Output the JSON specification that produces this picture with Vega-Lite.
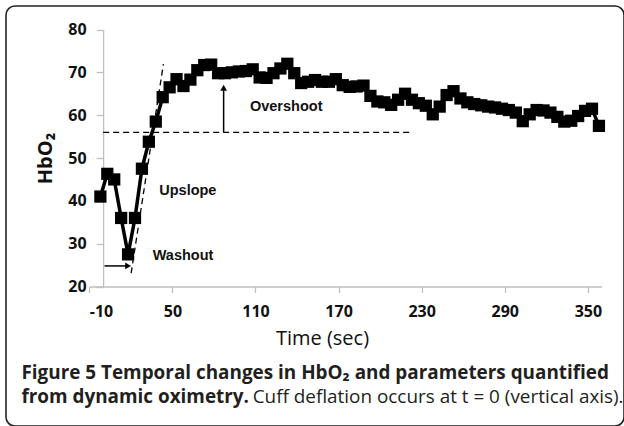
{
  "$schema": "https://vega.github.io/schema/vega-lite/v6.json",
  "width": 618,
  "height": 420,
  "autosize": {"type": "none"},
  "padding": {"left": 6, "top": 6, "right": 0, "bottom": 0},
  "background": "white",
  "config": {"view": {"stroke": "#222222", "strokeWidth": 1.6, "cornerRadius": 9}},
  "data": {"values": [
    {"t": -2, "v": 41.0}, {"t": 3, "v": 46.3}, {"t": 8, "v": 45.0}, {"t": 13, "v": 36.0},
    {"t": 18, "v": 27.5}, {"t": 23, "v": 36.0}, {"t": 28, "v": 47.5}, {"t": 33, "v": 53.8},
    {"t": 38, "v": 58.5}, {"t": 43, "v": 64.2}, {"t": 48, "v": 66.5}, {"t": 53, "v": 68.4},
    {"t": 58, "v": 66.8}, {"t": 63, "v": 68.3}, {"t": 68, "v": 70.5}, {"t": 73, "v": 71.7},
    {"t": 78, "v": 71.8}, {"t": 83, "v": 69.8}, {"t": 88, "v": 69.8}, {"t": 93, "v": 70.0},
    {"t": 98, "v": 70.2}, {"t": 103, "v": 70.3}, {"t": 108, "v": 70.7}, {"t": 113, "v": 68.8},
    {"t": 118, "v": 68.7}, {"t": 123, "v": 69.8}, {"t": 128, "v": 70.9}, {"t": 133, "v": 72.0},
    {"t": 138, "v": 69.8}, {"t": 143, "v": 67.5}, {"t": 148, "v": 67.8}, {"t": 153, "v": 68.2},
    {"t": 158, "v": 67.8}, {"t": 163, "v": 67.8}, {"t": 168, "v": 68.4}, {"t": 173, "v": 67.0},
    {"t": 178, "v": 66.6}, {"t": 183, "v": 66.7}, {"t": 188, "v": 66.9}, {"t": 193, "v": 64.5},
    {"t": 198, "v": 63.2}, {"t": 203, "v": 63.0}, {"t": 208, "v": 62.4}, {"t": 213, "v": 63.6},
    {"t": 218, "v": 65.0}, {"t": 223, "v": 63.6}, {"t": 228, "v": 62.8}, {"t": 233, "v": 62.2},
    {"t": 238, "v": 60.2}, {"t": 243, "v": 62.0}, {"t": 248, "v": 64.7}, {"t": 253, "v": 65.6},
    {"t": 258, "v": 63.9}, {"t": 263, "v": 63.0}, {"t": 268, "v": 62.6}, {"t": 273, "v": 62.3},
    {"t": 278, "v": 62.0}, {"t": 283, "v": 61.8}, {"t": 288, "v": 61.5}, {"t": 293, "v": 61.2},
    {"t": 298, "v": 60.6}, {"t": 303, "v": 58.6}, {"t": 308, "v": 60.2}, {"t": 313, "v": 61.2},
    {"t": 318, "v": 61.1}, {"t": 323, "v": 60.6}, {"t": 328, "v": 59.6}, {"t": 333, "v": 58.5},
    {"t": 338, "v": 58.7}, {"t": 343, "v": 59.8}, {"t": 348, "v": 61.0}, {"t": 353, "v": 61.5},
    {"t": 358, "v": 57.5}
  ]},
  "layer": [
    {
      "mark": {"type": "line", "color": "#000000", "strokeWidth": 3.5},
      "encoding": {
        "x": {
          "field": "t", "type": "quantitative",
          "scale": {"domain": [-10, 360], "range": [83.3, 595.7], "nice": false, "zero": false},
          "axis": {
            "values": [-10, 50, 110, 170, 230, 290, 350],
            "labelExpr": "'' + datum.value",
            "offset": -139.5, "grid": false,
            "domainColor": "#bfbfbf", "domainWidth": 1.3,
            "tickColor": "#bfbfbf", "tickWidth": 1.3, "tickSize": 6,
            "labelFont": "Open Sans", "labelFontWeight": "bold", "labelFontSize": 16,
            "labelColor": "#111111", "labelPadding": 11,
            "title": "Time (sec)", "titleFont": "Open Sans", "titleFontSize": 20,
            "titleFontWeight": "normal", "titleColor": "#111111", "titlePadding": 9,
            "titleX": 316
          }
        },
        "y": {
          "field": "v", "type": "quantitative",
          "scale": {"domain": [20, 80], "range": [280.5, 23.5], "nice": false, "zero": false},
          "axis": {
            "values": [20, 30, 40, 50, 60, 70, 80],
            "offset": -97.1, "grid": false,
            "domainColor": "#bfbfbf", "domainWidth": 1.3,
            "tickColor": "#bfbfbf", "tickWidth": 1.3, "tickSize": 7,
            "labelFont": "Open Sans", "labelFontWeight": "bold", "labelFontSize": 16,
            "labelColor": "#111111", "labelPadding": 10,
            "title": "HbO₂", "titleFont": "Open Sans", "titleFontSize": 20,
            "titleFontWeight": "bold", "titleColor": "#111111", "titlePadding": 12
          }
        }
      }
    },
    {
      "mark": {"type": "point", "shape": "square", "filled": true, "color": "#000000", "opacity": 1, "size": 150},
      "encoding": {
        "x": {"field": "t", "type": "quantitative"},
        "y": {"field": "v", "type": "quantitative"}
      }
    },
    {
      "data": {"values": [{}]},
      "mark": {"type": "rule", "color": "#000000", "strokeWidth": 1.3, "strokeDash": [6, 4]},
      "encoding": {"x": {"datum": 0}, "x2": {"datum": 221}, "y": {"datum": 56}}
    },
    {
      "data": {"values": [{}]},
      "mark": {"type": "rule", "color": "#000000", "strokeWidth": 1.3, "strokeDash": [6, 4]},
      "encoding": {"x": {"datum": 20.2}, "x2": {"datum": 43.5}, "y": {"datum": 23.1}, "y2": {"datum": 71.9}}
    },
    {
      "data": {"values": [{}]},
      "mark": {"type": "rule", "color": "#000000", "strokeWidth": 1.5},
      "encoding": {"x": {"datum": 1}, "x2": {"datum": 17}, "y": {"datum": 24.8}}
    },
    {
      "data": {"values": [{}]},
      "mark": {"type": "point", "shape": "triangle-right", "filled": true, "color": "#000000", "opacity": 1, "size": 45},
      "encoding": {"x": {"datum": 18}, "y": {"datum": 24.8}}
    },
    {
      "data": {"values": [{}]},
      "mark": {"type": "rule", "color": "#000000", "strokeWidth": 1.5},
      "encoding": {"x": {"datum": 87}, "y": {"datum": 56}, "y2": {"datum": 65.8}}
    },
    {
      "data": {"values": [{}]},
      "mark": {"type": "point", "shape": "triangle-up", "filled": true, "color": "#000000", "opacity": 1, "size": 45},
      "encoding": {"x": {"datum": 87}, "y": {"datum": 66.4}}
    },
    {
      "data": {"values": [{}]},
      "mark": {"type": "text", "text": "Overshoot", "align": "left", "baseline": "middle", "font": "Liberation Sans", "fontWeight": "bold", "fontSize": 14.5, "color": "#111111"},
      "encoding": {"x": {"datum": 106}, "y": {"datum": 62.0}}
    },
    {
      "data": {"values": [{}]},
      "mark": {"type": "text", "text": "Upslope", "align": "left", "baseline": "middle", "font": "Liberation Sans", "fontWeight": "bold", "fontSize": 14.5, "color": "#111111"},
      "encoding": {"x": {"datum": 40.5}, "y": {"datum": 42.3}}
    },
    {
      "data": {"values": [{}]},
      "mark": {"type": "text", "text": "Washout", "align": "left", "baseline": "middle", "font": "Liberation Sans", "fontWeight": "bold", "fontSize": 14.5, "color": "#111111"},
      "encoding": {"x": {"datum": 35.8}, "y": {"datum": 27.1}}
    },
    {
      "data": {"values": [{}]},
      "mark": {"type": "text", "text": "Figure 5 Temporal changes in HbO₂ and parameters quantified", "align": "left", "baseline": "middle", "font": "Open Sans", "fontWeight": "bold", "fontSize": 18.9, "color": "#231f20"},
      "encoding": {"x": {"datum": -59}, "y": {"datum": -0.2}}
    },
    {
      "data": {"values": [{}]},
      "mark": {"type": "text", "text": "from dynamic oximetry.", "align": "left", "baseline": "middle", "font": "Open Sans", "fontWeight": "bold", "fontSize": 18.9, "color": "#231f20"},
      "encoding": {"x": {"datum": -59}, "y": {"datum": -5.8}}
    },
    {
      "data": {"values": [{}]},
      "mark": {"type": "text", "text": "Cuff deflation occurs at t = 0 (vertical axis).", "align": "left", "baseline": "middle", "font": "Open Sans", "fontWeight": "normal", "fontSize": 18.9, "color": "#231f20"},
      "encoding": {"x": {"datum": 108}, "y": {"datum": -5.8}}
    }
  ]
}
